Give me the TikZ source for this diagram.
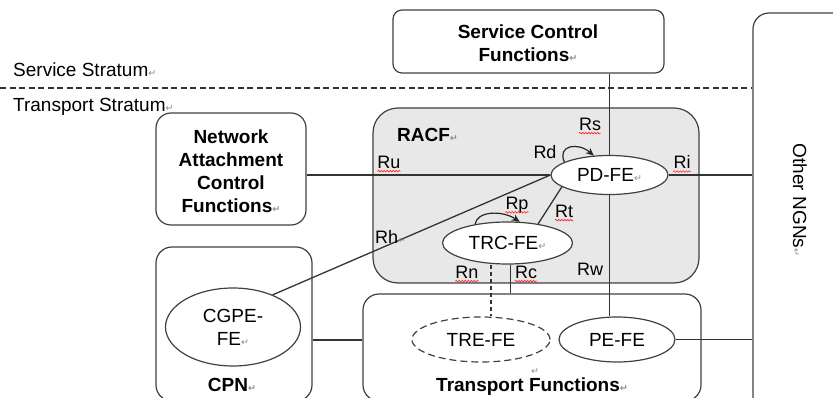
\documentclass[tikz,border=0pt]{standalone}
\usepackage{fontspec}
\setmainfont{Liberation Sans}
\newfontfamily\symfont{DejaVu Sans}
\usetikzlibrary{arrows.meta,shapes.geometric,decorations.pathmorphing}

% paragraph mark after a line of text
\newcommand\pmark{{\color{black!45}\fontsize{9.5}{9.5}\selectfont\symfont\char"21B5}}

\tikzset{
  every node/.style={font=\fontsize{19}{23}\selectfont},
  box/.style={draw=black!75, line width=1.2pt, inner sep=0pt},
  fe/.style={ellipse, draw=black!75, line width=1.2pt, fill=white, inner sep=0pt, align=center},
  wire/.style={draw=black!80, line width=1.3pt},
  rlabel/.style={inner sep=0pt, font=\fontsize{18}{18}\selectfont},
  title/.style={font=\fontsize{19}{23}\selectfont\bfseries, align=center, inner sep=0pt},
  spell/.style={draw=red!85, line width=0.6pt, decorate,
    decoration={snake, amplitude=0.8pt, segment length=3pt}},
  loop/.style={draw=black!85, line width=1.2pt, -{Stealth[length=8pt,width=7pt]}},
}

\begin{document}
\begin{tikzpicture}[x=1pt,y=-1pt]
\useasboundingbox (0,0) rectangle (833,398);
\clip (0,0) rectangle (833,398);

% strata
\node[anchor=west, inner sep=0pt] (ss) at (13,70) {Service Stratum\pmark};
\node[anchor=west, inner sep=0pt] (ts) at (13,107) {Transport Stratum\pmark};

% function blocks
\node[box, rounded corners=25pt, fill=black!9, minimum width=326, minimum height=175] (racf) at (536,195.5) {};
\node[box, rounded corners=9pt, minimum width=271, minimum height=63] (scf) at (528.5,41.5) {};
\node[box, rounded corners=15pt, minimum width=150, minimum height=112] (nacf) at (231,169) {};
\node[box, rounded corners=16pt, minimum width=156, minimum height=154] (cpn) at (234,324) {};
\node[box, rounded corners=16pt, minimum width=338, minimum height=107] (tf) at (532,347.5) {};
\node[box, rounded corners=16pt, minimum width=117, minimum height=407] (ngn) at (811.5,216.5) {};

% stratum boundary
\coordinate (dl) at (0,88);
\draw[wire, dash pattern=on 6pt off 3.5pt] (dl) -- (dl -| ngn.west);

% block titles
\node[title] at (528,43) {Service Control\\Functions\pmark};
\node[title] at (231,171) {Network\\Attachment\\Control\\Functions\pmark};
\node[title, anchor=west] at (397,135) {RACF\pmark};
\node[title] at (232,385) {CPN\pmark};
\node[title] at (532,387) {Transport Functions\pmark};
\node[inner sep=0pt] at (535,372) {\pmark};
\node[rotate=-90, inner sep=0pt] at (800,200) {Other NGNs\pmark};

% functional entities
\node[fe, minimum width=117, minimum height=39] (pd) at (609.5,175) {PD-FE\pmark};
\node[fe, minimum width=130, minimum height=42] (trc) at (507.5,243) {TRC-FE\pmark};
\node[fe, dash pattern=on 7pt off 4pt, minimum width=138, minimum height=45] (tre) at (481,339.5) {TRE-FE};
\node[fe, minimum width=116, minimum height=45] (pe) at (617,339.5) {PE-FE};
\node[fe, minimum width=135, minimum height=78] (cg) at (233,327) {CGPE-\\FE\pmark};

% reference points
\draw[wire] (pd.north) -- (pd.north |- scf.south);
\draw[wire] (pd.south) -- (pd.south |- pe.north);
\draw[wire] (nacf.east |- pd.west) -- (pd.west);
\draw[wire] (pd.east) -- (pd.east -| ngn.west);
\draw[wire] (cg.39) -- (pd.west);
\draw[wire] (pd.194) -- (trc.32);
\draw[wire, dash pattern=on 4pt off 3pt] (trc.south -| tre.north) ++(10,0) coordinate (rn0) -- (rn0 |- tre.north);
\draw[wire] (trc.south) ++(3,0) coordinate (rc0) -- (rc0 |- tf.north);
\draw[wire] (pe.east) -- (pe.east -| ngn.west);
\draw[wire] (cpn.east |- cg.east) ++(0,13) coordinate (cp0) -- (cp0 -| tf.west);

% internal loops
\draw[loop] (pd.164) .. controls (557,145) and (578,142) .. (pd.129);
\draw[loop] (trc.150) .. controls (477,211) and (502,210) .. (trc.60);

% reference point labels
\node[rlabel] (ru) at (389,162) {Ru};
\node[rlabel] (rs) at (590,124) {Rs};
\node[rlabel] (rd) at (545,152) {Rd};
\node[rlabel] (ri) at (682,162) {Ri};
\node[rlabel] (rp) at (517,205) {Rp};
\node[rlabel] (rt) at (564,211) {Rt};
\node[rlabel, anchor=west] (rh) at (375,237) {Rh\pmark};
\node[rlabel] (rn) at (467,272) {Rn};
\node[rlabel] (rc) at (526,272) {Rc};
\node[rlabel] (rw) at (590,269) {Rw};

% spelling marks
\foreach \l in {ru,rs,ri,rp,rt,rn,rc}
  \draw[spell] ([yshift=-3pt]\l.base west) -- ([yshift=-3pt]\l.base east);
\end{tikzpicture}
\end{document}
